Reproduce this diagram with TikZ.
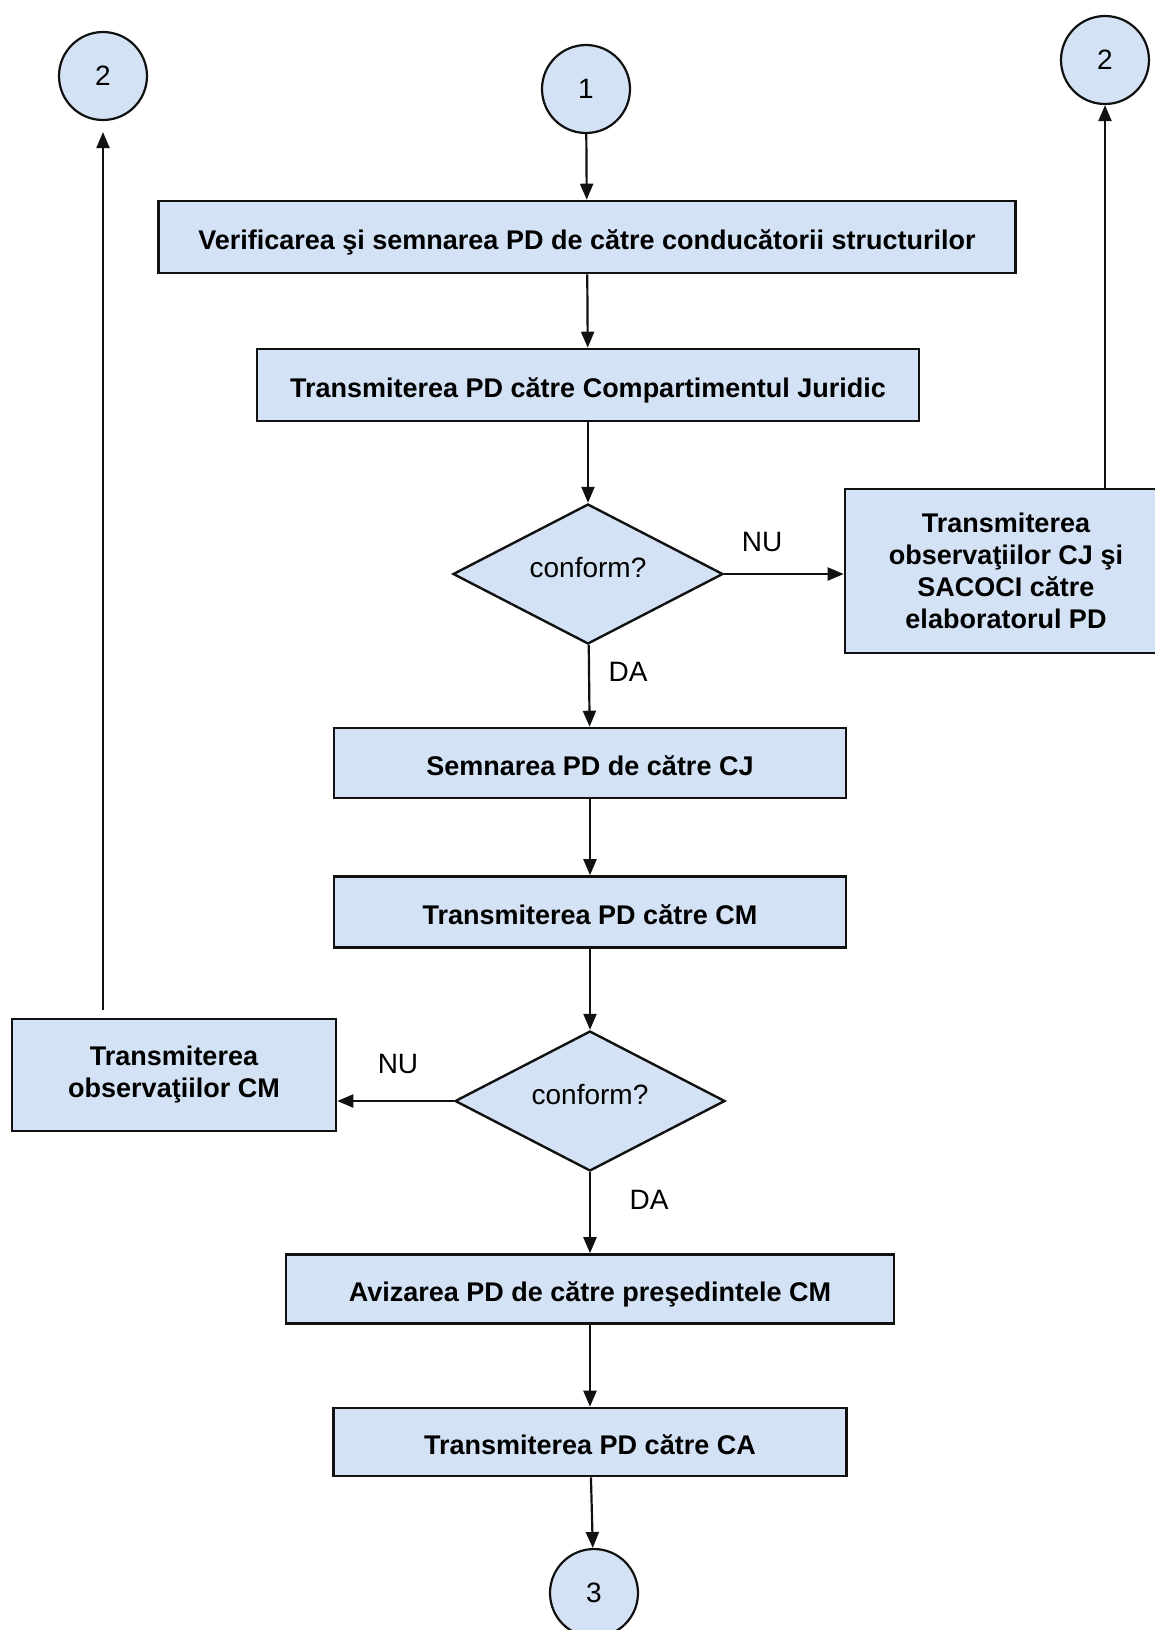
\documentclass[tikz,border=0pt]{standalone}
\usepackage{fontspec}
\setmainfont{Liberation Sans}
\usetikzlibrary{arrows.meta,positioning,shapes.geometric}
\definecolor{flowfill}{HTML}{D3E2F4}
\definecolor{flowink}{HTML}{111111}

\begin{document}
\begin{tikzpicture}[
  x=0.5pt,y=-0.5pt,
  box/.style={draw=flowink,line width=1.3pt,fill=flowfill,align=center,inner sep=2pt,font=\fontsize{13.5}{16}\selectfont\bfseries},
  oneline/.style={box,text height=12.3pt,text depth=0pt},
  check/.style={diamond,aspect=2,draw=flowink,line width=1.2pt,fill=flowfill,inner sep=0pt,minimum width=135pt,minimum height=70pt,text height=10pt,text depth=6.5pt,font=\fontsize{14}{16}\selectfont},
  link/.style={circle,draw=flowink,line width=1.1pt,fill=flowfill,minimum size=44pt,inner sep=0pt,font=\fontsize{14}{16}\selectfont},
  answer/.style={font=\fontsize{14}{16}\selectfont},
  arrow/.style={-{Triangle[length=8pt,width=6.5pt]},draw=flowink,line width=1.1pt}
]
\clip (0,0) rectangle (1155,1630);
\node[link] (top) at (586,89) {1};
\node[link] (backleft) at (103,76) {2};
\node[link] (backright) at (1105,60) {2};
\node[oneline,minimum width=428.5pt,minimum height=36pt] (verify) at (587,237) {Verificarea şi semnarea PD de către conducătorii structurilor};
\node[oneline,minimum width=331pt,minimum height=36pt] (tojur) at (588,385) {Transmiterea PD către Compartimentul Juridic};
\node[check] (okjur) at (588,574) {conform?};
\node[box,minimum width=161pt,minimum height=82pt] (obsjur) at (1006,571) {Transmiterea\\observaţiilor CJ şi\\SACOCI către\\elaboratorul PD};
\node[oneline,minimum width=256pt,minimum height=35pt] (signcj) at (590,763) {Semnarea PD de către CJ};
\node[oneline,minimum width=256pt,minimum height=35.5pt] (tocm) at (590,912) {Transmiterea PD către CM};
\node[check] (okcm) at (590,1101) {conform?};
\node[box,minimum width=162pt,minimum height=56pt] (obscm) at (174,1075) {Transmiterea\\observaţiilor CM};
\node[oneline,minimum width=304pt,minimum height=34.5pt] (avize) at (590,1289) {Avizarea PD de către preşedintele CM};
\node[oneline,minimum width=256.5pt,minimum height=34pt] (toca) at (590,1442) {Transmiterea PD către CA};
\node[link] (bottom) at (594,1593) {3};

\node[answer] (nojur) at (762,542) {NU};
\node[answer] (yesjur) at (628,672) {DA};
\node[answer] (nocm) at (398,1064) {NU};
\node[answer] (yescm) at (649,1200) {DA};

\draw[arrow] (top) -- (verify);
\draw[arrow] (verify) -- (tojur);
\draw[arrow] (tojur) -- (okjur);
\draw[arrow] (okjur.east) -- (okjur.east -| obsjur.west);
\draw[arrow] (backright.south |- obsjur.north) -- (backright.south);
\draw[arrow] (okjur) -- (signcj);
\draw[arrow] (signcj) -- (tocm);
\draw[arrow] (tocm) -- (okcm);
\draw[arrow] (okcm.west) -- (okcm.west -| obscm.east);
\draw[arrow,shorten <=4pt,shorten >=5.5pt] (backleft.south |- obscm.north) -- (backleft.south);
\draw[arrow] (okcm) -- (avize);
\draw[arrow] (avize) -- (toca);
\draw[arrow] (toca) -- (bottom);
\end{tikzpicture}
\end{document}
